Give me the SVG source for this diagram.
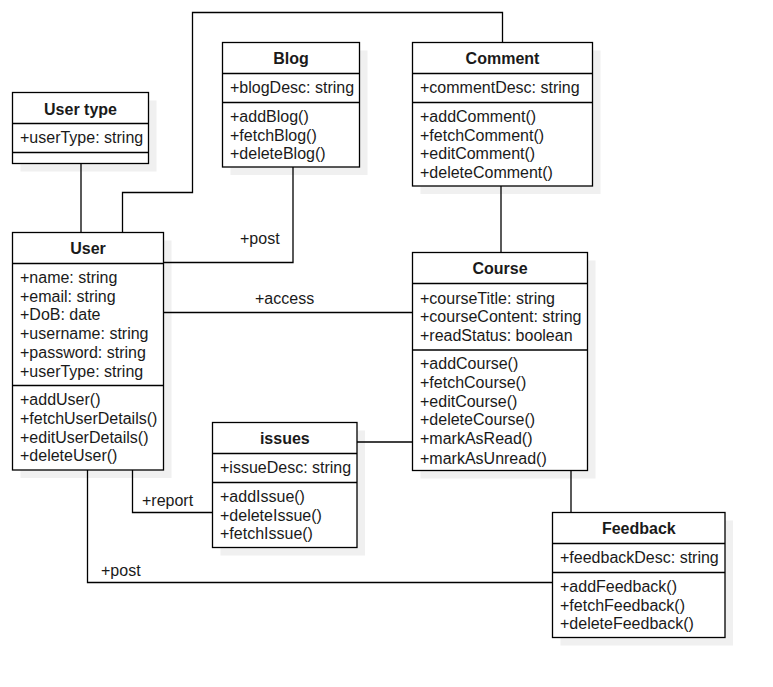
<svg xmlns="http://www.w3.org/2000/svg" width="773" height="687" viewBox="0 0 773 687">
<style>
.sh{fill:#f0f0f0;stroke:none}
.bx{fill:#ffffff;stroke:#000;stroke-width:1.3}
.ln{fill:none;stroke:#000;stroke-width:1.3}
text{font-family:"Liberation Sans",Arial,sans-serif;font-size:16px;fill:#1a1a1a}
.h{font-weight:bold;text-anchor:middle}
.lbl{fill:#1a1a1a}
</style>
<rect width="773" height="687" fill="#ffffff"/>
<g id="shadows">
<rect class="sh" x="20.5" y="100.5" width="136" height="71"/>
<rect class="sh" x="230.5" y="50.5" width="137" height="124.5"/>
<rect class="sh" x="420.5" y="50.5" width="180" height="143.5"/>
<rect class="sh" x="20.5" y="240.5" width="151" height="237.5"/>
<rect class="sh" x="420.5" y="260.5" width="175" height="218"/>
<rect class="sh" x="220.5" y="430.5" width="144.5" height="125"/>
<rect class="sh" x="560.5" y="520.5" width="172.5" height="125"/>
</g>
<g id="node-usertype">
<rect class="bx" x="12.5" y="92.5" width="136" height="71"/>
<line class="ln" x1="12.5" y1="123.5" x2="148.5" y2="123.5"/>
<line class="ln" x1="12.5" y1="152.5" x2="148.5" y2="152.5"/>
<text class="h" x="80.5" y="114.5">User type</text>
<text x="20" y="142.5">+userType: string</text>
</g>
<g id="node-blog">
<rect class="bx" x="222.5" y="42.5" width="137" height="124.5"/>
<line class="ln" x1="222.5" y1="73.5" x2="359.5" y2="73.5"/>
<line class="ln" x1="222.5" y1="102.5" x2="359.5" y2="102.5"/>
<text class="h" x="291" y="64">Blog</text>
<text x="230" y="92.8">+blogDesc: string</text>
<text x="230" y="122">+addBlog()</text>
<text x="230" y="140.7">+fetchBlog()</text>
<text x="230" y="159.4">+deleteBlog()</text>
</g>
<g id="node-comment">
<rect class="bx" x="412.5" y="42.5" width="180" height="143.5"/>
<line class="ln" x1="412.5" y1="73.5" x2="592.5" y2="73.5"/>
<line class="ln" x1="412.5" y1="102.5" x2="592.5" y2="102.5"/>
<text class="h" x="502.5" y="64">Comment</text>
<text x="420" y="92.8">+commentDesc: string</text>
<text x="420" y="122">+addComment()</text>
<text x="420" y="140.7">+fetchComment()</text>
<text x="420" y="159.4">+editComment()</text>
<text x="420" y="178.1">+deleteComment()</text>
</g>
<g id="node-user">
<rect class="bx" x="12.5" y="232.5" width="151" height="237.5"/>
<line class="ln" x1="12.5" y1="263.5" x2="163.5" y2="263.5"/>
<line class="ln" x1="12.5" y1="385.5" x2="163.5" y2="385.5"/>
<text class="h" x="88" y="254">User</text>
<text x="20" y="283">+name: string</text>
<text x="20" y="301.7">+email: string</text>
<text x="20" y="320.4">+DoB: date</text>
<text x="20" y="339.1">+username: string</text>
<text x="20" y="357.8">+password: string</text>
<text x="20" y="376.5">+userType: string</text>
<text x="20" y="405">+addUser()</text>
<text x="20" y="423.8">+fetchUserDetails()</text>
<text x="20" y="442.6">+editUserDetails()</text>
<text x="20" y="461.4">+deleteUser()</text>
</g>
<g id="node-course">
<rect class="bx" x="412.5" y="252.5" width="175" height="218"/>
<line class="ln" x1="412.5" y1="283.5" x2="587.5" y2="283.5"/>
<line class="ln" x1="412.5" y1="350" x2="587.5" y2="350"/>
<text class="h" x="500" y="274">Course</text>
<text x="420" y="303.5">+courseTitle: string</text>
<text x="420" y="322">+courseContent: string</text>
<text x="420" y="340.5">+readStatus: boolean</text>
<text x="420" y="369">+addCourse()</text>
<text x="420" y="388">+fetchCourse()</text>
<text x="420" y="406.5">+editCourse()</text>
<text x="420" y="425">+deleteCourse()</text>
<text x="420" y="444.3">+markAsRead()</text>
<text x="420" y="463.5">+markAsUnread()</text>
</g>
<g id="node-issues">
<rect class="bx" x="212.5" y="422.5" width="144.5" height="125"/>
<line class="ln" x1="212.5" y1="453.5" x2="357" y2="453.5"/>
<line class="ln" x1="212.5" y1="482.5" x2="357" y2="482.5"/>
<text class="h" x="284.8" y="444">issues</text>
<text x="220" y="472.8">+issueDesc: string</text>
<text x="220" y="502">+addIssue()</text>
<text x="220" y="520.7">+deleteIssue()</text>
<text x="220" y="539.4">+fetchIssue()</text>
</g>
<g id="node-feedback">
<rect class="bx" x="552.5" y="512.5" width="172.5" height="125"/>
<line class="ln" x1="552.5" y1="543.5" x2="725" y2="543.5"/>
<line class="ln" x1="552.5" y1="572.5" x2="725" y2="572.5"/>
<text class="h" x="638.8" y="534">Feedback</text>
<text x="560" y="562.8">+feedbackDesc: string</text>
<text x="560" y="592">+addFeedback()</text>
<text x="560" y="610.7">+fetchFeedback()</text>
<text x="560" y="629.4">+deleteFeedback()</text>
</g>
<g id="connectors">
<polyline class="ln" points="81,163.5 81,232.5"/>
<polyline class="ln" points="502.5,42.5 502.5,12.5 192.5,12.5 192.5,192.5 122.5,192.5 122.5,232.5"/>
<polyline class="ln" points="293,167 293,262.5 163.5,262.5"/>
<polyline class="ln" points="163.5,312.5 412.5,312.5"/>
<polyline class="ln" points="501,186 501,252.5"/>
<polyline class="ln" points="357,442 412.5,442"/>
<polyline class="ln" points="571,470.5 571,512.5"/>
<polyline class="ln" points="132.5,470 132.5,512.5 212.5,512.5"/>
<polyline class="ln" points="87.5,470 87.5,582.5 552.5,582.5"/>
<text class="lbl" x="240" y="244">+post</text>
<text class="lbl" x="255" y="304">+access</text>
<text class="lbl" x="142" y="505.5">+report</text>
<text class="lbl" x="101" y="575.5">+post</text>
</g>
</svg>
